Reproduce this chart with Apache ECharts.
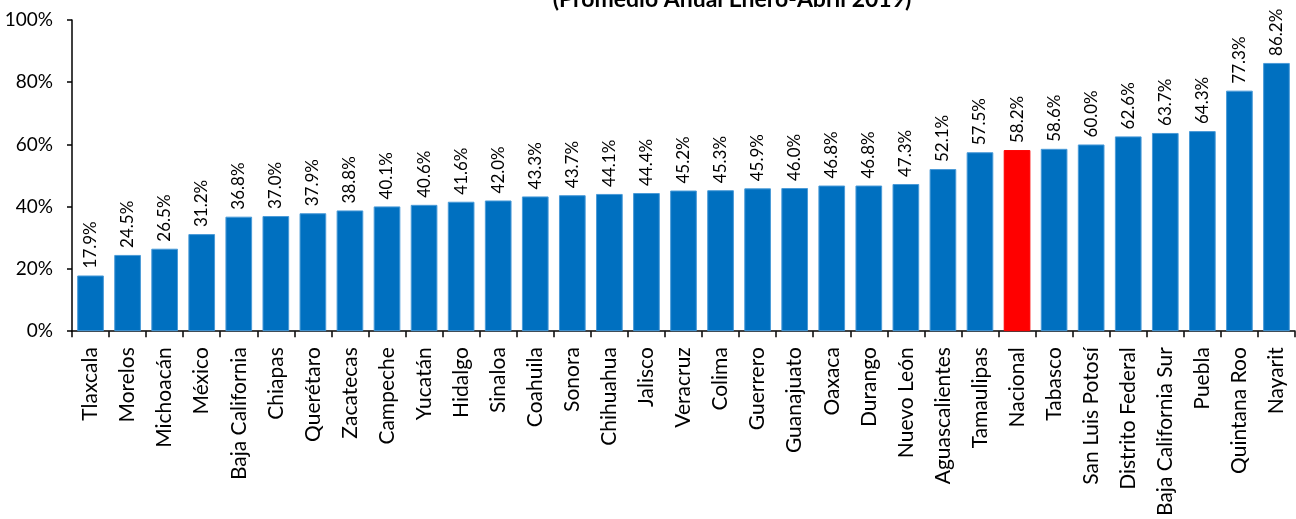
<!DOCTYPE html>
<html><head><meta charset="utf-8">
<script src="https://cdn.jsdelivr.net/npm/echarts@6/dist/echarts.min.js"></script>
<style>html,body{margin:0;padding:0;background:#fff}#c{width:1296px;height:519px}</style>
</head><body><div id="c"></div>
<script>
const categories = ["Tlaxcala","Morelos","Michoacán","México","Baja California","Chiapas","Querétaro","Zacatecas","Campeche","Yucatán","Hidalgo","Sinaloa","Coahuila","Sonora","Chihuahua","Jalisco","Veracruz","Colima","Guerrero","Guanajuato","Oaxaca","Durango","Nuevo León","Aguascalientes","Tamaulipas","Nacional","Tabasco","San Luis Potosí","Distrito Federal","Baja California Sur","Puebla","Quintana Roo","Nayarit"];
const values = [17.9,24.5,26.5,31.2,36.8,37.0,37.9,38.8,40.1,40.6,41.6,42.0,43.3,43.7,44.1,44.4,45.2,45.3,45.9,46.0,46.8,46.8,47.3,52.1,57.5,58.2,58.6,60.0,62.6,63.7,64.3,77.3,86.2];
const highlight = "Nacional";
const yTicks = [0,20,40,60,80,100];
const titleText = "(Promedio Anual Enero-Abril 2019)";

const font = "Lato, 'Open Sans', sans-serif";
const chart = echarts.init(document.getElementById('c'));
chart.setOption({
  animation: false,
  title: { text: titleText, left: 727, textAlign: 'center', top: -17,
    textStyle: { fontFamily: font, fontSize: 23, fontWeight: 'bold', color: '#000' } },
  grid: { left: 72, right: 1, top: 20, bottom: 186, containLabel: false },
  xAxis: { type: 'category', data: categories,
    axisLine: { lineStyle: { color: '#000', width: 1.5 } },
    axisTick: { show: true, length: 6, lineStyle: { color: '#000', width: 1.5 } },
    axisLabel: { rotate: 90, interval: 0, margin: 16, fontFamily: font, fontSize: 21, color: '#000' } },
  yAxis: { type: 'value', min: yTicks[0], max: yTicks[yTicks.length-1], interval: 20,
    splitLine: { show: false },
    axisLine: { show: true, lineStyle: { color: '#000', width: 1.5 } },
    axisTick: { show: true, length: 5, lineStyle: { color: '#000', width: 1.5 } },
    axisLabel: { formatter: v => v + '%', fontFamily: font, fontSize: 19, color: '#000', margin: 19 } },
  series: [{ type: 'bar', barCategoryGap: '28%',
    data: values.map((v, i) => ({ value: v,
      itemStyle: { color: categories[i] === highlight ? '#FF0000' : '#0070C0',
        borderColor: categories[i] === highlight ? '#FF0000' : '#4A9BD8', borderWidth: 1 } })),
    label: { show: true, position: 'top', rotate: 90, align: 'left', verticalAlign: 'middle', distance: 7,
      formatter: p => p.value.toFixed(1) + '%', fontFamily: font, fontSize: 17, color: '#000' } }]
});
</script></body></html>
